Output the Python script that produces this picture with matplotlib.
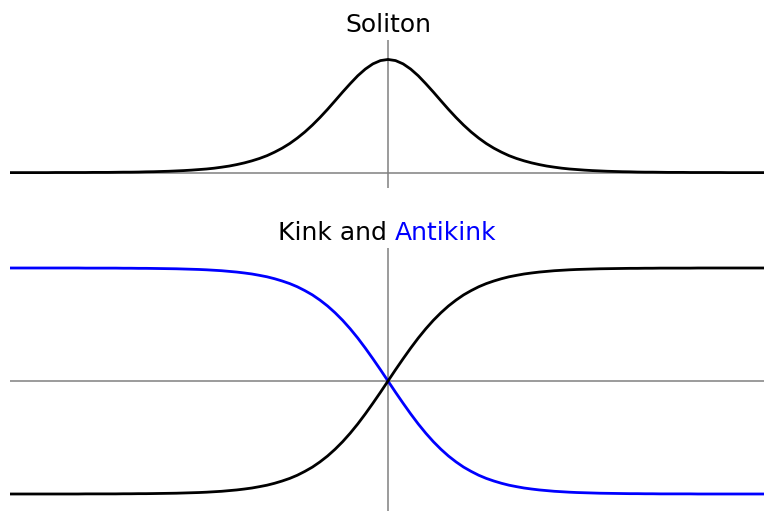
import numpy as np
import matplotlib
matplotlib.use("Agg")
import matplotlib.pyplot as plt

# sample positions, shared by both panels (step 0.1 from -5 to 5)
x = np.linspace(-5, 5, 101)

soliton = [
    0.000, 0.000, 0.000, 0.000, 0.000, 0.000, 0.001, 0.001, 0.001, 0.001,
    0.001, 0.002, 0.002, 0.002, 0.003, 0.004, 0.004, 0.005, 0.007, 0.008,
    0.010, 0.012, 0.015, 0.018, 0.022, 0.027, 0.032, 0.039, 0.048, 0.058,
    0.071, 0.086, 0.104, 0.125, 0.150, 0.181, 0.216, 0.257, 0.305, 0.359,
    0.420, 0.487, 0.559, 0.635, 0.712, 0.786, 0.856, 0.915, 0.961, 0.990,
    1.000,
    0.990, 0.961, 0.915, 0.856, 0.786, 0.712, 0.635, 0.559, 0.487, 0.420,
    0.359, 0.305, 0.257, 0.216, 0.181, 0.150, 0.125, 0.104, 0.086, 0.071,
    0.058, 0.048, 0.039, 0.032, 0.027, 0.022, 0.018, 0.015, 0.012, 0.010,
    0.008, 0.007, 0.005, 0.004, 0.004, 0.003, 0.002, 0.002, 0.002, 0.001,
    0.001, 0.001, 0.001, 0.001, 0.000, 0.000, 0.000, 0.000, 0.000, 0.000,
]

kink = [
    -1.000, -1.000, -1.000, -1.000, -1.000, -1.000, -1.000, -1.000, -1.000, -1.000,
    -0.999, -0.999, -0.999, -0.999, -0.999, -0.998, -0.998, -0.997, -0.997, -0.996,
    -0.995, -0.994, -0.993, -0.991, -0.989, -0.987, -0.984, -0.980, -0.976, -0.970,
    -0.964, -0.956, -0.947, -0.935, -0.922, -0.905, -0.885, -0.862, -0.834, -0.800,
    -0.762, -0.716, -0.664, -0.604, -0.537, -0.462, -0.380, -0.291, -0.197, -0.100,
    0.000,
    0.100, 0.197, 0.291, 0.380, 0.462, 0.537, 0.604, 0.664, 0.716, 0.762,
    0.800, 0.834, 0.862, 0.885, 0.905, 0.922, 0.935, 0.947, 0.956, 0.964,
    0.970, 0.976, 0.980, 0.984, 0.987, 0.989, 0.991, 0.993, 0.994, 0.995,
    0.996, 0.997, 0.997, 0.998, 0.998, 0.999, 0.999, 0.999, 0.999, 0.999,
    1.000, 1.000, 1.000, 1.000, 1.000, 1.000, 1.000, 1.000, 1.000, 1.000,
]

antikink = [
    1.000, 1.000, 1.000, 1.000, 1.000, 1.000, 1.000, 1.000, 1.000, 1.000,
    0.999, 0.999, 0.999, 0.999, 0.999, 0.998, 0.998, 0.997, 0.997, 0.996,
    0.995, 0.994, 0.993, 0.991, 0.989, 0.987, 0.984, 0.980, 0.976, 0.970,
    0.964, 0.956, 0.947, 0.935, 0.922, 0.905, 0.885, 0.862, 0.834, 0.800,
    0.762, 0.716, 0.664, 0.604, 0.537, 0.462, 0.380, 0.291, 0.197, 0.100,
    0.000,
    -0.100, -0.197, -0.291, -0.380, -0.462, -0.537, -0.604, -0.664, -0.716, -0.762,
    -0.800, -0.834, -0.862, -0.885, -0.905, -0.922, -0.935, -0.947, -0.956, -0.964,
    -0.970, -0.976, -0.980, -0.984, -0.987, -0.989, -0.991, -0.993, -0.994, -0.995,
    -0.996, -0.997, -0.997, -0.998, -0.998, -0.999, -0.999, -0.999, -0.999, -0.999,
    -1.000, -1.000, -1.000, -1.000, -1.000, -1.000, -1.000, -1.000, -1.000, -1.000,
]

W, H = 764, 511
fig = plt.figure(figsize=(W / 100, H / 100), dpi=100)

def px_axes(left, top, right, bottom):
    # axes rectangle given in pixel coordinates (origin top-left)
    return fig.add_axes([left / W, 1 - bottom / H, (right - left) / W, (bottom - top) / H])

axis_kw = dict(color="0.5", lw=1.1, zorder=1)
curve_lw = 2.0

# soliton panel
ax1 = px_axes(10, 40, 766, 188)
ax1.axhline(0, **axis_kw)
ax1.axvline(0, **axis_kw)
ax1.plot(x, soliton, color="black", lw=curve_lw, zorder=3)
ax1.set_xlim(-5, 5)
ax1.set_ylim(-0.136, 1.172)
ax1.axis("off")

# kink / antikink panel
ax2 = px_axes(10, 248, 766, 514)
ax2.axhline(0, **axis_kw)
ax2.axvline(0, **axis_kw)
ax2.plot(x, antikink, color="#0000ff", lw=curve_lw, zorder=2)
ax2.plot(x, kink, color="black", lw=curve_lw, zorder=3)
ax2.set_xlim(-5, 5)
ax2.set_ylim(-1.177, 1.177)
ax2.axis("off")

fs = 18
fig.text(388 / W, 1 - 32 / H, "Soliton", ha="center", va="baseline", fontsize=fs)
fig.text(386.5 / W, 1 - 240 / H, "Kink and", ha="right", va="baseline", fontsize=fs)
fig.text(395 / W, 1 - 240 / H, "Antikink", ha="left", va="baseline",
         fontsize=fs, color="#0000ff")

fig.savefig("out.png", dpi=100)
